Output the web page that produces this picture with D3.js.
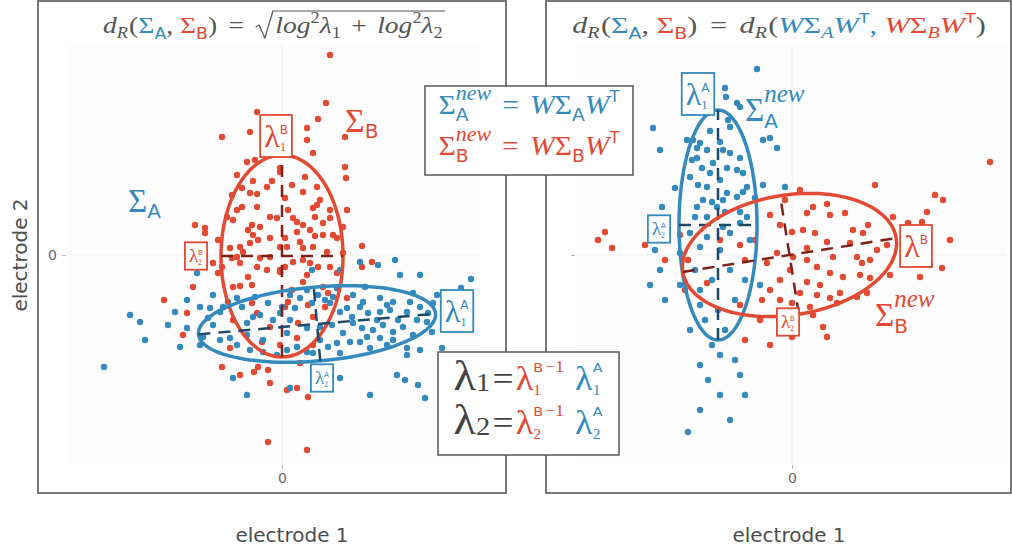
<!DOCTYPE html>
<html>
<head>
<meta charset="utf-8">
<script src="https://cdn.jsdelivr.net/npm/d3@7"></script>
<style>
  body { margin: 0; background: #fff; }
  svg { display: block; }
</style>
</head>
<body>
<div id="chart"></div>
<script>
// ---- data (units: electrode readings, both panels centred on 0) ----
const xTicks = [0];
const yTicks = [0];

const leftRed = [
  [-2.5,14.3],[-6.0,11.8],[-3.2,12.3],[2.5,12.7],[2.5,11.5],[3.6,13.6],[6.3,11.8],[3.1,10.2],
  [-3.5,9.3],[-2.7,9.5],[-0.2,8.7],[-0.2,8.3],[6.3,8.8],[6.4,7.7],[2.3,7.8],[-2.9,7.4],
  [-1.0,7.4],[-4.0,6.7],[-1.5,6.8],[-3.2,6.2],[-2.5,6.1],[2.1,6.3],[-5.0,6.0],[0.3,5.7],
  [3.8,5.5],[3.5,5.0],[3.1,4.7],[-2.5,4.8],[-4.5,4.5],[6.5,4.5],[-1.2,3.8],[-0.5,3.7],
  [1.1,3.7],[1.5,3.3],[3.3,3.8],[4.8,3.7],[-4.9,3.5],[-3.0,3.0],[-2.2,2.8],[-3.4,2.5],
  [-8.7,3.0],[-7.7,2.7],[-7.7,2.2],[1.5,2.3],[2.8,2.5],[3.3,1.9],[4.1,2.0],[5.1,2.0],
  [6.1,2.8],[5.5,1.7],[-2.9,2.0],[-2.4,1.5],[-1.2,1.7],[0.3,1.7],[1.8,1.3],[-3.2,1.2],
  [-4.2,0.8],[-5.2,0.7],[-6.4,1.5],[0.5,0.8],[2.1,0.7],[-3.9,0.3],[-1.2,-0.2],[-2.2,-0.3],
  [-5.0,-0.3],[-6.9,-0.8],[-6.0,-1.2],[-4.2,-0.8],[-2.5,-1.2],[-1.5,-1.5],[0.3,-1.2],[1.1,-0.7],
  [2.8,-0.8],[3.6,-1.2],[4.8,-1.2],[6.1,0.2],[8.0,-1.2],[5.5,-1.8],[4.8,20.0],[4.4,15.2],
  [-11.8,-4.5],[8.0,0.9],[9.0,-0.7],[-1.4,-18.7],[2.5,-19.5],[-6.0,-11.2],[-4.2,-12.0],[-2.8,-11.7],
  [-8.9,-3.2],[-6.4,-1.8],[-3.4,-2.2],[-3.0,-3.0],[-4.9,-3.2],[-4.2,-3.1],[-0.2,-1.7],[1.0,-3.5],
  [2.1,-2.7],[2.5,-2.0],[4.1,-3.2],[4.6,-3.8],[0.6,-4.7],[0.3,-5.2],[2.6,-5.0],[4.3,-5.2],
  [6.5,-4.3],[-3.0,-4.8],[-2.5,-5.8],[-4.9,-6.5],[-1.2,-7.2],[1.6,-6.8],[3.1,-6.2],[1.5,-8.3],
  [-2.0,-8.7],[-0.2,-9.0],[3.1,-9.0],[-5.2,-9.3],[-9.5,-5.8],[-9.9,-8.0],[-2.4,-11.2],[-1.4,-11.5],
  [1.8,-10.8],[1.5,-13.3],[0.5,-13.5],[-1.2,-12.8],[2.6,-14.2],
  [-4.5,8.0],[1.0,7.0],[3.5,6.8],[4.8,4.5],[0.6,4.5],[-4.0,4.8],[-5.5,3.8],[2.1,3.0],
  [4.1,3.2],[-0.2,0.8],[3.1,0.8],[4.5,0.3],[-4.5,-0.2],[2.1,-0.5],[-0.2,-1.5]
];

const leftBlue = [
  [-8.5,-1.8],[-6.9,-4.0],[-8.2,-5.2],[-7.2,-5.3],[-6.2,-5.7],[-5.4,-4.7],[-4.0,-5.2],[-2.7,-4.2],
  [-1.4,-4.8],[0.8,-4.0],[1.8,-4.3],[2.5,-3.5],[3.6,-4.0],[5.5,-3.3],[7.1,-4.0],[8.3,-3.2],
  [9.8,-4.3],[11.1,-4.7],[13.1,-3.8],[13.8,-5.2],[15.1,-4.8],[15.5,-4.0],[11.8,-2.0],[4.8,-4.8],
  [5.8,-5.7],[7.8,-5.2],[8.6,-5.8],[9.8,-5.7],[10.8,-5.5],[12.5,-5.7],[-9.5,-7.3],[-7.9,-8.2],
  [-6.9,-7.0],[-3.5,-6.8],[-2.9,-6.2],[-0.2,-5.8],[0.8,-6.5],[2.5,-7.3],[3.8,-7.2],[5.0,-7.0],
  [6.1,-7.8],[7.1,-6.8],[8.0,-7.3],[9.1,-7.5],[10.1,-7.0],[11.1,-7.7],[12.1,-7.2],[13.1,-8.0],
  [14.5,-6.7],[-5.2,-8.3],[-3.5,-8.0],[-1.9,-8.5],[0.5,-7.8],[3.8,-8.5],[5.5,-8.8],[7.8,-8.7],
  [8.8,-9.3],[10.5,-9.0],[12.5,-9.3],[-1.9,-9.7],[0.5,-9.5],[2.5,-9.7],[5.8,-9.8],[-4.9,-12.3],
  [-3.5,-14.0],[0.8,-13.3],[5.8,-12.3],[11.5,-12.0],[12.5,-10.0],[13.8,-9.5],[16.0,-9.3],[-10.2,-9.2],
  [-17.8,-11.2],[-15.2,-6.0],[-14.2,-6.7],[-13.7,-8.5],[-11.4,-7.0],[-10.7,-5.7],[-9.5,-4.5],[3.0,-1.5],
  [5.8,-1.5],[7.8,-0.7],[9.6,-1.0],[11.3,-0.5],[13.8,-2.0],[17.9,-3.3],[18.9,-2.4],[12.3,-12.5],
  [13.6,-13.0],[14.3,-14.3],[8.8,-14.0],
  [-7.4,-6.3],[-5.9,-5.2],[-4.5,-4.3],[-2.2,-6.0],[-0.9,-6.5],[0.0,-5.2],[1.3,-5.3],[3.0,-4.8],
  [4.3,-4.5],[5.1,-4.2],[6.5,-5.3],[7.0,-6.2],[8.1,-4.7],[9.5,-6.5],[10.5,-5.0],[11.6,-6.5],
  [12.8,-4.7],[13.5,-6.5],[14.6,-5.8],[15.0,-7.7],[11.1,-8.5],[9.8,-8.3],[8.5,-8.2],[6.8,-8.7],
  [4.6,-9.2],[3.1,-9.8],[1.5,-9.2],[-0.5,-10.0],[-3.2,-9.5],[-4.5,-9.0],[-6.2,-8.5],[-8.2,-9.0]
];

const rightBlue = [
  [-3.5,18.6],[-6.7,16.7],[-6.6,15.8],[-5.5,15.2],[-5.2,14.8],[-13.9,12.7],[-8.2,12.4],[-6.4,13.5],
  [-6.2,12.8],[-10.5,11.5],[-9.9,11.5],[-9.2,11.2],[-7.2,11.3],[-9.5,10.7],[-8.5,10.5],[-6.9,10.5],
  [-6.2,10.2],[-13.2,10.5],[-2.9,11.5],[-2.2,11.7],[-1.5,10.7],[-5.2,9.7],[-9.5,9.7],[-7.9,9.2],
  [-6.5,8.7],[-9.0,8.7],[-10.2,7.8],[-8.2,8.2],[-5.5,8.5],[-4.9,8.2],[-9.4,7.0],[-8.5,6.8],
  [-7.2,7.5],[-4.5,6.8],[-11.7,6.7],[-2.9,7.0],[-6.5,6.2],[-8.0,5.3],[-5.5,5.8],[-7.5,4.8],
  [-9.7,3.8],[-8.5,3.8],[-6.7,4.3],[-5.2,4.3],[-13.0,4.8],[-0.7,6.8],[-6.9,2.8],[-5.2,3.2],
  [-10.2,2.2],[-8.5,1.8],[-6.2,2.2],[-4.2,1.5],[-9.2,0.8],[-7.2,0.5],[-13.7,0.5],[-11.2,0.2],
  [-13.2,-1.5],[-14.2,-3.0],[-12.7,-4.5],[-11.2,-3.0],[-9.7,-1.5],[-9.2,-3.5],[-8.0,-2.5],[-6.2,-1.5],
  [-4.7,-2.5],[-3.2,-3.0],[-9.2,-5.0],[-7.4,-5.5],[-5.7,-4.5],[-8.7,-6.5],[-6.7,-7.5],[-10.2,-7.5],
  [-8.0,-9.0],[-7.2,-10.0],[-5.7,-10.5],[-9.2,-11.0],[-5.2,-12.0],[-8.4,-12.5],[-4.7,-14.0],[-7.2,-14.0],
  [-9.2,-15.5],[-10.4,-17.7],[-6.2,-16.5],
  [-4.9,6.3],[-3.7,5.7],[-8.9,5.5],[-9.5,4.8],[-4.5,3.8],[-6.9,5.5],[-10.0,9.5]
];

const rightRed = [
  [3.5,5.1],[2.1,4.8],[1.5,4.2],[3.8,4.0],[5.3,4.2],[7.6,3.0],[10.1,3.8],[11.6,3.2],
  [13.0,3.3],[13.5,4.3],[15.1,5.5],[6.1,2.5],[7.1,2.2],[1.1,2.5],[2.3,2.2],[0.0,2.3],
  [-1.2,3.0],[3.5,1.3],[5.8,1.2],[8.5,0.5],[9.5,1.0],[1.5,0.7],[4.1,-0.2],[6.5,-0.2],
  [7.0,-0.8],[7.8,-0.5],[0.1,-0.2],[-1.5,0.2],[-2.5,-0.8],[1.5,-0.5],[2.5,-1.2],[-0.2,-1.5],
  [3.8,-1.8],[5.1,-2.2],[6.8,-2.0],[7.8,-2.3],[9.8,-2.0],[12.8,-2.2],[13.8,-1.0],[15.0,-1.3],
  [1.5,-2.7],[2.8,-3.0],[-1.2,-2.5],[-2.2,-3.5],[0.8,-3.8],[2.5,-4.0],[3.8,-4.3],[4.8,-3.8],
  [6.5,-4.2],[7.5,-3.8],[-1.2,-4.5],[-3.0,-4.5],[0.0,-4.8],[1.8,-5.2],[4.5,-4.8],[2.1,-6.0],
  [3.1,-7.2],[3.5,-8.2],[0.0,-8.2],[-19.4,1.5],[-18.7,2.3],[-18.0,0.7],[-14.7,1.0],[-12.7,-0.5],
  [-11.2,2.0],[-10.4,-0.5],[-7.2,1.5],[-5.2,1.0],[-4.7,-0.5],[-3.7,1.5],[-2.2,4.0],[-0.7,5.5],
  [0.8,6.5],[8.3,7.0],[14.3,6.0],[19.8,9.3],[15.8,1.5],[-8.5,-2.8],[-10.7,-3.5],[-5.2,-5.0],
  [-3.2,-6.5],[-0.7,-6.5],[-4.7,-8.5],[-2.2,-9.0]
];

// ellipses: centre, semi-axes, rotation (degrees, counter-clockwise)
const leftEllipses = [
  { cx: 0.0, cy: -0.1, a: 6.1, b: 10.1, ang: 0, col: "red" },
  { cx: 3.5, cy: -6.9, a: 11.9, b: 3.7, ang: 5, col: "blue" }
];
const rightEllipses = [
  { cx: -7.4, cy: 3.0, a: 3.9, b: 11.5, ang: 0, col: "blue" },
  { cx: -0.25, cy: 0.0, a: 10.8, b: 6.0, ang: 9, col: "red" }
];

// ---- setup ----
const W = 1012, H = 552;
const red = "#E24A33", blue = "#348ABD", grey = "#555555";
const dash = { red: "#7d2016", blue: "#1d4a66" };
const colOf = { red: red, blue: blue };
const serif = "'Liberation Serif', 'DejaVu Serif', serif";
const sans = "'DejaVu Sans', sans-serif";

const svg = d3.select("#chart").append("svg")
  .attr("width", W).attr("height", H)
  .style("background", "#fff");

// tiny typesetter for the math labels
function layout(g, parts, x0, base) {
  let cx = x0;
  parts.forEach(p => {
    if (p.sup || p.sub) {
      const e1 = p.sup ? layout(g, p.sup, cx, base) : cx;
      const e2 = p.sub ? layout(g, p.sub, cx, base) : cx;
      cx = Math.max(e1, e2);
      return;
    }
    if (p.rad) {
      const c = p.c || base.c;
      const st = cx;
      const end = layout(g, p.rad, cx + 17, base);
      g.append("path")
        .attr("d", `M${st},-6 L${st + 3},-8 L${st + 8},5 L${st + 15},-22 L${end + 2},-22`)
        .attr("fill", "none").attr("stroke", c).attr("stroke-width", 1.1);
      cx = end + 2;
      return;
    }
    cx += p.dx || 0;
    const t = g.append("text")
      .attr("x", cx).attr("y", p.dy || 0)
      .attr("fill", p.c || base.c)
      .style("font-family", p.f || serif)
      .style("font-style", p.i ? "italic" : "normal")
      .style("font-size", (p.s || base.s) + "px")
      .text(p.t);
    cx += t.node().getComputedTextLength() + (p.gap || 0);
  });
  return cx;
}

function mathRow(parent, x, y, parts, base, anchor, sx) {
  sx = sx || 1;
  const g = parent.append("g");
  const w = layout(g, parts, 0, base) * sx;
  const shift = anchor === "middle" ? -w / 2 : (anchor === "end" ? -w : 0);
  g.attr("transform", `translate(${x + shift},${y}) scale(${sx},1)`);
  return g;
}

// boxed label centred on (x, y)
function boxLabel(parent, x, y, parts, base, stroke) {
  const g = parent.append("g");
  const inner = g.append("g");
  layout(inner, parts, 0, base);
  const bb = inner.node().getBBox();
  inner.attr("transform", `translate(${-bb.x - bb.width / 2},${-bb.y - bb.height / 2})`);
  g.insert("rect", ":first-child")
    .attr("x", -bb.width / 2 - 4).attr("y", -bb.height / 2 - 3)
    .attr("width", bb.width + 8).attr("height", bb.height + 6)
    .attr("fill", "#fff").attr("stroke", stroke).attr("stroke-width", 1.8);
  g.attr("transform", `translate(${x},${y})`);
}

// ---- panels ----
function panel(opt) {
  const x = d3.scaleLinear().domain(opt.xd).range(opt.xr);
  const y = d3.scaleLinear().domain(opt.yd).range(opt.yr);
  const g = svg.append("g");

  g.append("rect")
    .attr("x", opt.xr[0]).attr("y", opt.yr[1])
    .attr("width", opt.xr[1] - opt.xr[0]).attr("height", opt.yr[0] - opt.yr[1])
    .attr("fill", "#fdfdfd");

  g.append("g").attr("transform", `translate(0,${opt.yr[0]})`)
    .call(d3.axisBottom(x).tickValues(xTicks).tickSize(4).tickPadding(4).tickFormat(d3.format("d")))
    .call(a => a.select(".domain").remove())
    .call(a => a.selectAll("line").attr("stroke", "#bbb"))
    .call(a => a.selectAll("text").attr("fill", "#666").style("font-size", "14px").style("font-family", sans));
  g.append("g").attr("transform", `translate(${opt.xr[0]},0)`)
    .call(d3.axisLeft(y).tickValues(yTicks).tickSize(4).tickPadding(5).tickFormat(d3.format("d")))
    .call(a => a.select(".domain").remove())
    .call(a => a.selectAll("line").attr("stroke", "#bbb"))
    .call(a => a.selectAll("text").attr("fill", "#666").style("font-size", "14px").style("font-family", sans)
      .style("display", opt.yLabels ? null : "none"));

  // grid at zero
  g.append("line").attr("x1", x(0)).attr("x2", x(0)).attr("y1", opt.yr[1]).attr("y2", opt.yr[0])
    .attr("stroke", "#efefef");
  g.append("line").attr("x1", opt.xr[0]).attr("x2", opt.xr[1]).attr("y1", y(0)).attr("y2", y(0))
    .attr("stroke", "#efefef");

  g.selectAll(".pr").data(opt.red).join("circle")
    .attr("cx", d => x(d[0])).attr("cy", d => y(d[1])).attr("r", 3.2).attr("fill", red);
  g.selectAll(".pb").data(opt.blue).join("circle")
    .attr("cx", d => x(d[0])).attr("cy", d => y(d[1])).attr("r", 3.2).attr("fill", blue);

  const line = d3.line().x(d => x(d[0])).y(d => y(d[1]));
  opt.ell.forEach(e => {
    const r = e.ang * Math.PI / 180, c = Math.cos(r), s = Math.sin(r);
    const pts = d3.range(0, 361, 3).map(t => {
      const u = e.a * Math.cos(t * Math.PI / 180), v = e.b * Math.sin(t * Math.PI / 180);
      return [e.cx + u * c - v * s, e.cy + u * s + v * c];
    });
    g.append("path").attr("d", line(pts)).attr("fill", "none")
      .attr("stroke", colOf[e.col]).attr("stroke-width", 3.5);
    const ax1 = [[e.cx - e.a * c, e.cy - e.a * s], [e.cx + e.a * c, e.cy + e.a * s]];
    const ax2 = [[e.cx + e.b * s, e.cy - e.b * c], [e.cx - e.b * s, e.cy + e.b * c]];
    [ax1, ax2].forEach(a => g.append("path").attr("d", line(a))
      .attr("stroke", dash[e.col]).attr("stroke-width", 2.5).attr("stroke-dasharray", "12,8"));
  });

  // frame
  svg.append("rect").attr("x", opt.frame[0]).attr("y", opt.frame[1])
    .attr("width", opt.frame[2] - opt.frame[0]).attr("height", opt.frame[3] - opt.frame[1])
    .attr("fill", "none").attr("stroke", "#4d4d4d").attr("stroke-width", 1.5);

  svg.append("text").attr("x", x(0) + opt.labelShift).attr("y", 542)
    .attr("text-anchor", "middle").attr("fill", "#4d4d4d")
    .style("font-family", sans).style("font-size", "20px").text("electrode 1");
  return { x, y, g };
}

const L = panel({
  xd: [-21.6, 19.8], xr: [66, 480], yd: [-21, 21], yr: [465, 45],
  red: leftRed, blue: leftBlue, ell: leftEllipses, frame: [38, 1, 506, 493], yLabels: true, labelShift: 10
});
const R = panel({
  xd: [-21.7, 21.5], xr: [575, 1007], yd: [-21, 21], yr: [465, 45],
  red: rightRed, blue: rightBlue, ell: rightEllipses, frame: [546, 1, 1011, 493], yLabels: false, labelShift: -3
});

svg.append("text").attr("transform", "translate(27,255) rotate(-90)")
  .attr("text-anchor", "middle").attr("fill", "#4d4d4d")
  .style("font-family", sans).style("font-size", "20px").text("electrode 2");

// ---- titles ----
const subA = (c, s) => ({ sub: [{ t: "A", f: sans, s: s, dy: 6, c: c }] });
const subB = (c, s) => ({ sub: [{ t: "B", f: sans, s: s, dy: 6, c: c }] });
const supT = c => ({ sup: [{ t: "T", f: sans, s: 14, dy: -10, c: c }] });

mathRow(svg, 274, 33, [
  { t: "d", i: 1 }, { sub: [{ t: "R", i: 1, s: 16, dy: 5 }] },
  { t: "(", dx: 1 }, { t: "Σ", c: blue }, subA(blue, 15), { t: ",", gap: 6 }, { t: "Σ", c: red }, subB(red, 15), { t: ")" },
  { t: "=", dx: 10, gap: 10 },
  { rad: [
    { t: "log", i: 1 }, { sup: [{ t: "2", s: 16, dy: -10 }] }, { t: "λ", i: 1 }, { sub: [{ t: "1", s: 16, dy: 5 }] },
    { t: "+", dx: 9, gap: 9 },
    { t: "log", i: 1 }, { sup: [{ t: "2", s: 16, dy: -10 }] }, { t: "λ", i: 1 }, { sub: [{ t: "2", s: 16, dy: 5 }] }
  ] }
], { s: 24, c: grey }, "middle", 1.15);

mathRow(svg, 779, 33, [
  { t: "d", i: 1 }, { sub: [{ t: "R", i: 1, s: 16, dy: 5 }] },
  { t: "(", dx: 1 }, { t: "Σ", c: blue }, subA(blue, 15), { t: ",", gap: 6 }, { t: "Σ", c: red }, subB(red, 15), { t: ")" },
  { t: "=", dx: 10, gap: 10 },
  { t: "d", i: 1 }, { sub: [{ t: "R", i: 1, s: 16, dy: 5 }] }, { t: "(", dx: 1 },
  { t: "W", i: 1, c: blue }, { t: "Σ", c: blue }, { sub: [{ t: "A", i: 1, s: 16, dy: 5, c: blue }] },
  { t: "W", i: 1, c: blue }, supT(blue), { t: ",", gap: 6, c: blue },
  { t: "W", i: 1, c: red }, { t: "Σ", c: red }, { sub: [{ t: "B", i: 1, s: 16, dy: 5, c: red }] },
  { t: "W", i: 1, c: red }, supT(red), { t: ")" }
], { s: 24, c: grey }, "middle", 1.26);

// ---- annotations in panels ----
const lam = (c, sup, sub, s) => {
  const k = s / 32;
  const p = [{ t: "λ", c: c, s: s }];
  const st = {};
  if (sup) st.sup = [{ t: sup, f: sans, s: 12 * k, dy: -13 * k, c: c }];
  if (sub) st.sub = [{ t: sub, s: 13 * k, dy: 4 * k, c: c }];
  p.push(st);
  return p;
};

boxLabel(svg, L.x(-0.6), L.y(11.9), lam(red, "B", "1", 32), { s: 32, c: red }, red);
boxLabel(svg, L.x(-8.6), L.y(-0.1), lam(red, "B", "2", 19), { s: 19, c: red }, red);
boxLabel(svg, L.x(17.5), L.y(-5.6), lam(blue, "A", "1", 32), { s: 32, c: blue }, blue);
boxLabel(svg, L.x(4.0), L.y(-12.3), lam(blue, "A", "2", 19), { s: 19, c: blue }, blue);

boxLabel(svg, R.x(-9.4), R.y(16.1), lam(blue, "A", "1", 32), { s: 32, c: blue }, blue);
boxLabel(svg, R.x(-13.3), R.y(2.6), lam(blue, "A", "2", 19), { s: 19, c: blue }, blue);
boxLabel(svg, R.x(12.4), R.y(0.9), lam(red, "B", null, 32), { s: 32, c: red }, red);
boxLabel(svg, R.x(-0.4), R.y(-6.7), lam(red, "B", "2", 19), { s: 19, c: red }, red);

mathRow(svg, L.x(6.3), L.y(12.3), [{ t: "Σ" }, { sub: [{ t: "B", f: sans, s: 20, dy: 6 }] }], { s: 34, c: red });
mathRow(svg, L.x(-15.4), L.y(4.3), [{ t: "Σ" }, { sub: [{ t: "A", f: sans, s: 20, dy: 6 }] }], { s: 33, c: blue });
mathRow(svg, R.x(-4.7), R.y(13.4), [{ t: "Σ" },
  { sup: [{ t: "new", i: 1, s: 25, dy: -19 }], sub: [{ t: "A", f: sans, s: 20, dy: 7 }] }], { s: 33, c: blue });
mathRow(svg, R.x(8.3), R.y(-7.1), [{ t: "Σ" },
  { sup: [{ t: "new", i: 1, s: 25, dy: -19 }], sub: [{ t: "B", f: sans, s: 20, dy: 7 }] }], { s: 33, c: red });

// ---- overlay boxes between panels ----
svg.append("rect").attr("x", 425).attr("y", 86).attr("width", 208).attr("height", 89)
  .attr("fill", "#fff").attr("stroke", "#555").attr("stroke-width", 1.5);
const eqRow = (c, letter, yy) => mathRow(svg, 529, yy, [
  { t: "Σ", c: c }, { sup: [{ t: "new", i: 1, s: 20, dy: -14, c: c }], sub: [{ t: letter, f: sans, s: 17, dy: 7, c: c }] },
  { t: "=", dx: 10, gap: 10, c: c },
  { t: "W", i: 1, c: c }, { t: "Σ", c: c }, { sub: [{ t: letter, f: sans, s: 17, dy: 7, c: c }] },
  { t: "W", i: 1, c: c }, { sup: [{ t: "T", f: sans, s: 15, dy: -12, c: c }] }
], { s: 27, c: c }, "middle", 1.1);
eqRow(blue, "A", 114);
eqRow(red, "B", 155);

svg.append("rect").attr("x", 438).attr("y", 352).attr("width", 181).attr("height", 103)
  .attr("fill", "#fff").attr("stroke", "#555").attr("stroke-width", 1.5);
const lamRow = (n, yy) => mathRow(svg, 528, yy, [
  { t: "λ", s: 42, c: "#444" }, { sub: [{ t: n, s: 26, dy: 1, c: "#444" }] },
  { t: "=", s: 34, c: "#444", dx: 2, gap: 2 },
  { t: "λ", s: 33, c: red },
  { sup: [{ t: "B", f: sans, s: 13, dy: -18, c: red }, { t: "−1", s: 16, dy: -18, c: red, dx: 2 }],
    sub: [{ t: n, s: 14, dy: 5, c: red }] },
  { t: "λ", s: 33, c: blue, dx: 10 },
  { sup: [{ t: "A", f: sans, s: 13, dy: -18, c: blue }], sub: [{ t: n, s: 14, dy: 5, c: blue }] }
], { s: 32, c: "#444" }, "middle", 1.1);
lamRow("1", 390);
lamRow("2", 434);
</script>
</body>
</html>
